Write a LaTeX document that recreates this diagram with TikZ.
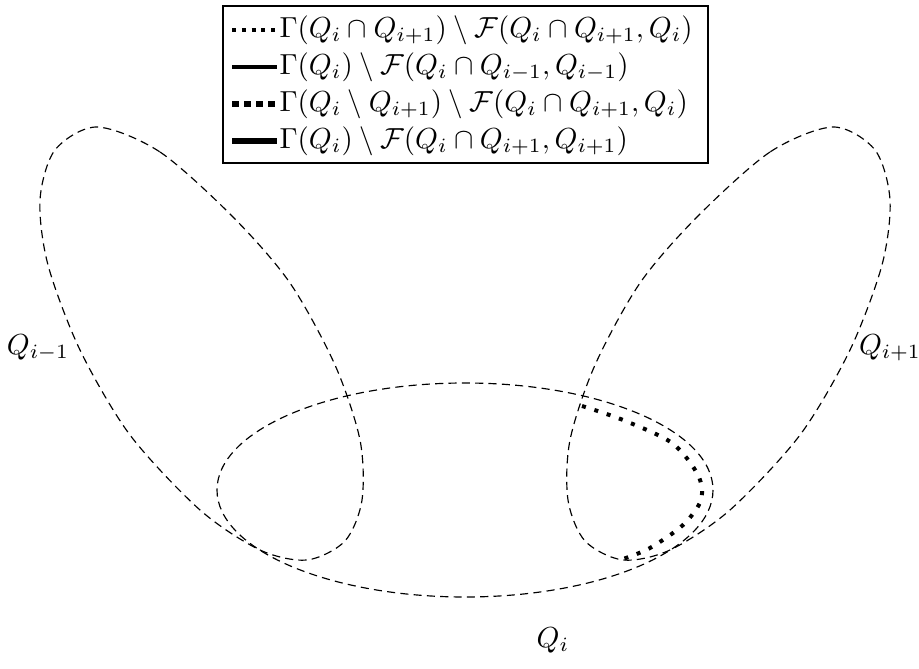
\documentclass[tikz,border=0pt]{standalone}
\usepackage{amsmath,amssymb}
\begin{document}
\begin{tikzpicture}[x=0.345pt,y=-0.345pt,
  setline/.style={line width=0.4pt, dash pattern=on 2.8pt off 1.8pt},
  dotcurve/.style={line width=1.38pt, dash pattern=on 1.38pt off 3.1pt},
  sampleA/.style={line width=1.38pt, dash pattern=on 1.38pt off 2pt},
  sampleB/.style={line width=1.38pt},
  sampleC/.style={line width=2.4pt, dash pattern=on 2.4pt off 1.75pt},
  sampleD/.style={line width=2.4pt},
  legtext/.style={anchor=west, inner sep=0pt},
  setlabel/.style={inner sep=0pt}]
\useasboundingbox (0,0) rectangle (919,669);

% legend
\node[draw, line width=0.4pt, minimum width=485*0.345pt, minimum height=157*0.345pt, inner sep=0pt] (legend) at (465.5,84.5) {};
\coordinate (a1) at (232,30);  \coordinate (b1) at (276,30);
\coordinate (a2) at (232,67);  \coordinate (b2) at (277,67);
\coordinate (a3) at (232,104); \coordinate (b3) at (277,104);
\coordinate (a4) at (232,141); \coordinate (b4) at (277,141);
\draw[sampleA] (a1) -- (b1);
\draw[sampleB] (a2) -- (b2);
\draw[sampleC] (a3) -- (b3);
\draw[sampleD] (a4) -- (b4);
\node[legtext] (t1) at (279,30) {$\Gamma(Q_i\cap Q_{i+1})\setminus\mathcal{F}(Q_i\cap Q_{i+1},Q_i)$};
\node[legtext] (t2) at (279,67) {$\Gamma(Q_i)\setminus\mathcal{F}(Q_i\cap Q_{i-1},Q_{i-1})$};
\node[legtext] (t3) at (279,104) {$\Gamma(Q_i\setminus Q_{i+1})\setminus\mathcal{F}(Q_i\cap Q_{i+1},Q_i)$};
\node[legtext] (t4) at (279,141) {$\Gamma(Q_i)\setminus\mathcal{F}(Q_i\cap Q_{i+1},Q_{i+1})$};

% Q_i
\draw[setline] (465,490) ellipse [x radius=248, y radius=107];

% Q_{i-1}
\draw[setline] plot[smooth cycle] coordinates {(97,127) (160,152) (233,217) (290,283) (335,365) (360,440) (362,500) (345,541) (307,560) (260,550) (200,510) (130,435) (80,350) (48,265) (40,200) (55,150)};

% Q_{i+1} (mirror image)
\begin{scope}[shift={(930,0)}, xscale=-1]
\draw[setline] plot[smooth cycle] coordinates {(97,127) (160,152) (233,217) (290,283) (335,365) (360,440) (362,500) (345,541) (307,560) (260,550) (200,510) (130,435) (80,350) (48,265) (40,200) (55,150)};
\end{scope}

% dotted boundary part
\draw[dotcurve] plot[smooth] coordinates {(582,406) (623,420) (672,443) (698,475) (701,500) (683,525) (650,548) (623,559)};

% labels
\node[setlabel] (lm) at (38,348) {$Q_{i-1}$};
\node[setlabel] (lp) at (890,348) {$Q_{i+1}$};
\node[setlabel] (li) at (553,640) {$Q_i$};
\end{tikzpicture}
\end{document}
